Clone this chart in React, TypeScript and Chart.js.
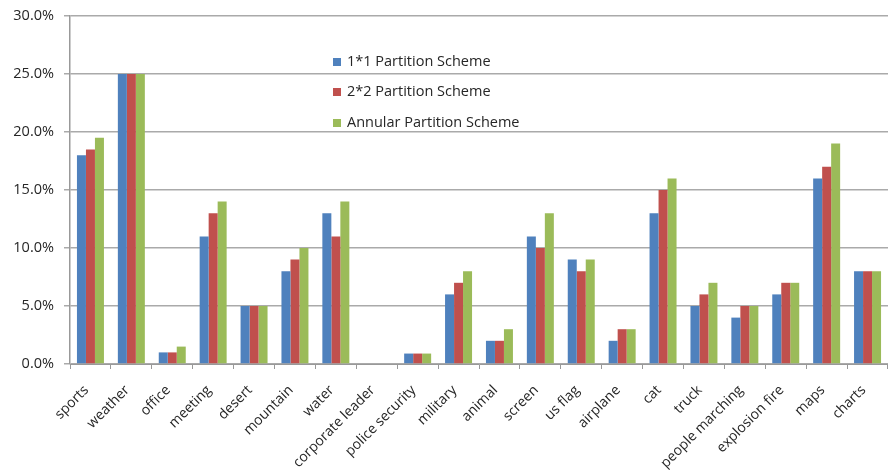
import React, { useEffect, useRef } from "react";
import { Chart, registerables } from "chart.js";

Chart.register(...registerables);

const categories = [
  "sports", "weather", "office", "meeting", "desert", "mountain", "water",
  "corporate leader", "police security", "military", "animal", "screen",
  "us flag", "airplane", "cat", "truck", "people marching", "explosion fire",
  "maps", "charts",
];

const seriesNames = ["1*1 Partition Scheme", "2*2 Partition Scheme", "Annular Partition Scheme"];
const seriesColors = ["#4F81BD", "#C0504D", "#9BBB59"];

const scheme1x1 = [18, 25, 1, 11, 5, 8, 13, 0, 0.9, 6, 2, 11, 9, 2, 13, 5, 4, 6, 16, 8];
const scheme2x2 = [18.5, 25, 1, 13, 5, 9, 11, 0, 0.9, 7, 2, 10, 8, 3, 15, 6, 5, 7, 17, 8];
const schemeAnnular = [19.5, 25, 1.5, 14, 5, 10, 14, 0, 0.9, 8, 3, 13, 9, 3, 16, 7, 5, 7, 19, 8];

const yTicks = [0, 5, 10, 15, 20, 25, 30];

const FONT = "'Open Sans', sans-serif";
const TEXT = "#262626";

const legendPlugin = {
  id: "insideLegend",
  afterDraw(chart: any) {
    const ctx = chart.ctx;
    const ys = [62, 92, 123];
    ctx.save();
    ctx.font = `14.5px ${FONT}`;
    ctx.textBaseline = "middle";
    chart.data.datasets.forEach((ds: any, i: number) => {
      ctx.fillStyle = ds.backgroundColor;
      ctx.fillRect(333, ys[i] - 4, 8, 8);
      ctx.fillStyle = TEXT;
      ctx.fillText(ds.label, 347, ys[i]);
    });
    ctx.restore();
  },
};

export default function App() {
  const ref = useRef<HTMLCanvasElement>(null);
  useEffect(() => {
    const datasets = [scheme1x1, scheme2x2, schemeAnnular].map((d, i) => ({
      label: seriesNames[i],
      data: d,
      backgroundColor: seriesColors[i],
      borderWidth: 0,
      categoryPercentage: 0.66,
      barPercentage: 1.0,
    }));
    const chart = new Chart(ref.current!, {
      type: "bar",
      data: { labels: categories, datasets },
      options: {
        animation: false,
        responsive: false,
        layout: { padding: { top: 16, right: 0, left: 0, bottom: 0 } },
        plugins: { legend: { display: false }, tooltip: { enabled: false } },
        scales: {
          x: {
            afterFit: (s: any) => {
              s.height = 107;
              s.paddingLeft = 0;
              s.paddingRight = 0;
            },
            grid: { display: true, drawOnChartArea: false, color: "#999", tickLength: 5, offset: true },
            border: { color: "#999", width: 1 },
            ticks: {
              minRotation: 45, maxRotation: 45, autoSkip: false,
              color: TEXT, font: { family: FONT, size: 14 }, padding: 13, labelOffset: -4,
            },
          },
          y: {
            min: 0, max: 30,
            afterFit: (s: any) => {
              s.width = 70;
              s.paddingTop = 0;
              s.paddingBottom = 0;
            },
            afterBuildTicks: (s: any) => { s.ticks = yTicks.map((v) => ({ value: v })); },
            grid: { color: "#aaa", lineWidth: 1.5, tickLength: 6 },
            border: { color: "#999", width: 1.5 },
            ticks: {
              color: TEXT, font: { family: FONT, size: 14.5 }, padding: 10,
              callback: (v: any) => Number(v).toFixed(1) + "%",
            },
          },
        },
      },
      plugins: [legendPlugin],
    });
    return () => chart.destroy();
  }, []);
  return (
    <div style={{ position: "fixed", left: 0, top: 0, width: 888, height: 471, background: "#fff" }}>
      <canvas ref={ref} width={888} height={471} />
    </div>
  );
}
